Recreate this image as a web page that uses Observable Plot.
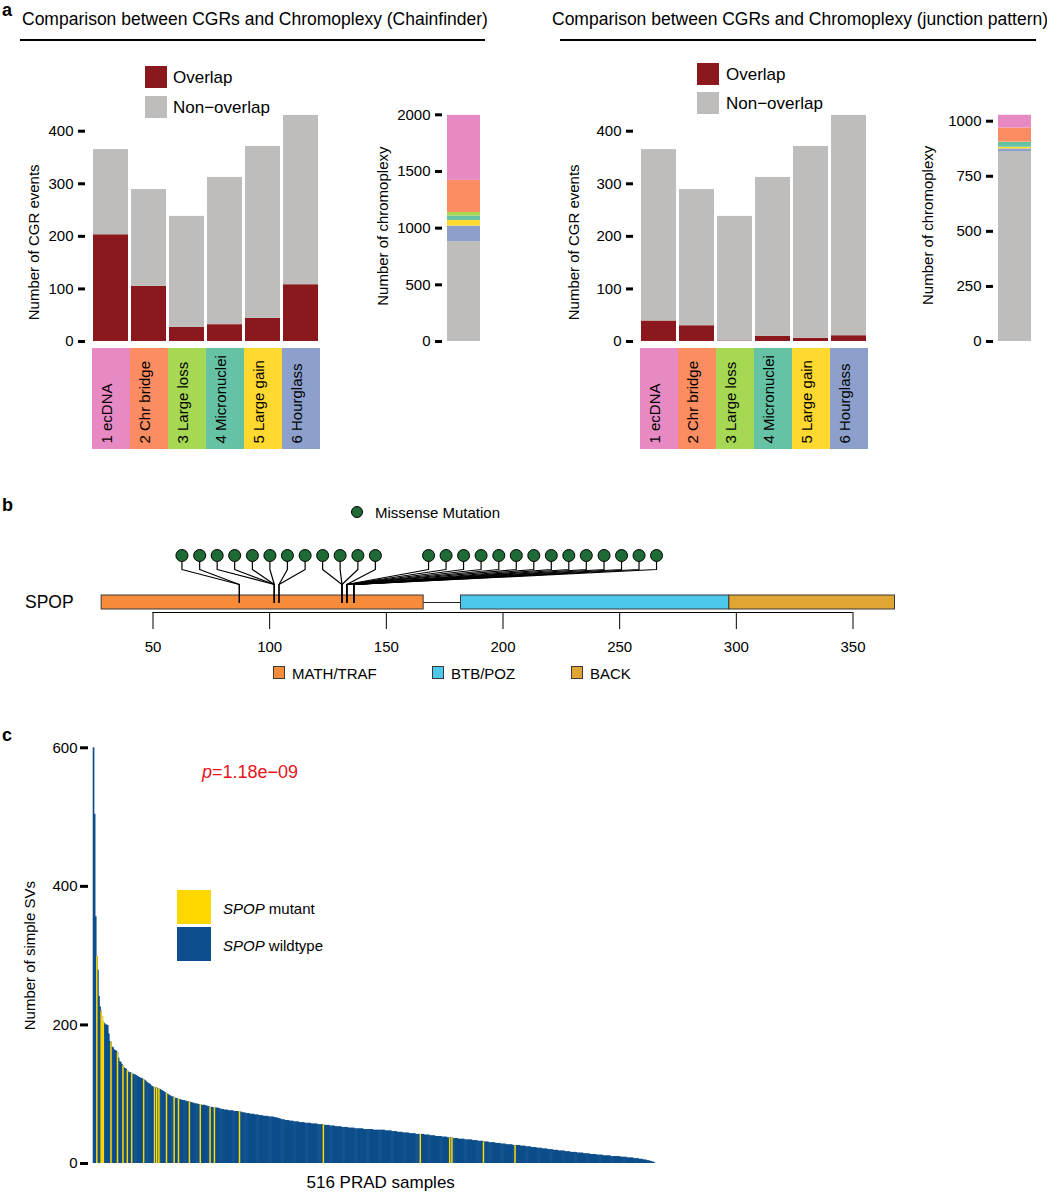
<!DOCTYPE html>
<html><head><meta charset="utf-8">
<script src="https://cdn.jsdelivr.net/npm/d3@7"></script>
<script src="https://cdn.jsdelivr.net/npm/@observablehq/plot@0.6"></script>
<style>
body{margin:0;background:#fff;font-family:"Liberation Sans",Arial,Helvetica,sans-serif;}
#page{position:relative;width:1047px;height:1200px;overflow:hidden;background:#fff;}
.abs{position:absolute;white-space:nowrap;line-height:1;color:#000;}
svg{display:block;}
</style></head><body><div id="page"></div>
<script>
// ---------------- DATA ----------------
// Panel a
const cgrCategories = ["1 ecDNA","2 Chr bridge","3 Large loss","4 Micronuclei","5 Large gain","6 Hourglass"];
const cgrColors = ["#E78AC3","#FC8D62","#A6D854","#66C2A5","#FFD92F","#8DA0CB"];
const cgrTotal = [365, 289, 238, 312, 371, 430];
const overlapChainfinder = [203, 105, 27, 32, 44, 108];
const overlapJunction = [39, 30, 1, 10, 6, 11];
const cgrTicks = [0, 100, 200, 300, 400];
// stacked chromoplexy bar, bottom to top
const chromoGroups = ["Non-overlap","6 Hourglass","5 Large gain","4 Micronuclei","3 Large loss","2 Chr bridge","1 ecDNA"];
const chromoColors = ["#BEBDBC","#8DA0CB","#FFD92F","#66C2A5","#A6D854","#FC8D62","#E78AC3"];
const chromoChainfinder = [880, 138, 50, 38, 32, 283, 574];
const chromoJunction = [862, 12, 8, 22, 1, 64, 58];
const chromoTicksChainfinder = [0, 500, 1000, 1500, 2000];
const chromoTicksJunction = [0, 250, 500, 750, 1000];

// Panel b
const spopDomains = ["MATH/TRAF","BTB/POZ","BACK"];
const domainStart = [28, 182, 297];
const domainEnd = [166, 297, 368];
const domainColors = ["#F68B3A","#4EC8EA","#E0A532"];
const missensePos = [87,87,102,102,102,102,104,104,131,131,131,133,
                     133,133,133,133,133,133,136,136,136,136,136,136,136,136];
const lollipopHead = [62.4,70.0,77.5,85.0,92.6,100.1,107.6,115.2,122.7,130.2,137.8,145.3,
                      168.1,175.6,183.1,190.6,198.2,205.7,213.2,220.7,228.2,235.7,243.3,250.8,258.3,265.8];
const proteinTicks = [50, 100, 150, 200, 250, 300, 350];

// Panel c (516 PRAD samples, sorted)
const simpleSVs = [
600,504,356,299,279,241,226,220,212,204,
202,200,200,199,187,176,175,168,167,164,
163,162,160,152,147,146,143,141,138,137,
136,134,132,131,131,130,129,128,128,127,
126,125,124,123,123,122,121,120,119,117,
116,115,114,112,111,110,110,109,109,108,
107,107,106,105,104,103,102,101,100,99,
98,97,96,96,95,94,94,93,93,92,
92,91,91,91,90,90,89,89,89,88,
88,87,87,86,86,86,85,85,85,84,
84,84,84,83,83,82,82,81,81,81,
80,80,80,80,80,79,79,78,78,78,
77,77,77,77,76,76,76,76,76,75,
75,75,75,75,75,74,74,73,73,73,
72,72,72,72,71,71,71,71,70,70,
70,70,69,69,69,69,68,68,68,68,
68,67,67,67,67,67,66,66,66,65,
65,64,64,63,63,63,62,62,62,62,
61,61,61,61,60,60,60,60,60,59,
59,59,59,59,58,58,58,58,58,58,
57,57,57,57,57,57,56,56,56,56,
56,56,55,55,55,55,55,54,54,54,
54,54,53,53,53,53,53,53,52,52,
52,52,52,52,51,51,51,51,51,51,
50,50,50,50,50,50,50,50,49,49,
49,49,49,49,49,49,49,48,48,48,
48,48,48,48,48,48,48,48,47,47,
47,47,47,47,46,46,46,46,46,45,
45,45,45,45,44,44,44,44,44,44,
43,43,43,43,43,43,42,42,42,42,
42,42,42,42,41,41,41,41,41,40,
40,40,40,40,39,39,39,39,39,39,
38,38,38,38,38,37,37,37,37,37,
36,36,36,36,36,35,35,35,35,35,
35,34,34,34,34,34,34,34,33,33,
33,33,33,32,32,32,32,32,31,31,
31,31,31,30,30,30,30,30,30,29,
29,29,29,29,28,28,28,28,28,27,
27,27,27,27,27,26,26,26,26,26,
26,26,25,25,25,25,25,24,24,24,
24,24,23,23,23,23,23,22,22,22,
22,22,21,21,21,21,21,20,20,20,
20,20,19,19,19,19,19,18,18,18,
18,18,18,17,17,17,17,17,16,16,
16,16,16,16,15,15,15,15,15,15,
14,14,14,14,14,14,13,13,13,13,
13,13,12,12,12,12,12,12,11,11,
11,11,11,11,11,10,10,10,10,10,
10,10,10,10,9,9,9,9,9,9,
8,8,8,8,8,8,7,7,7,7,
7,6,6,6,6,5,5,5,4,4,
4,3,3,2,2,1
];
const spopMutantIdx = [3,7,8,9,16,22,27,31,35,46,56,58,60,67,74,78,88,98,107,111,134,211,300,327,329,358,387];
const svTicks = [0, 200, 400, 600];

// ---------------- STYLE ----------------
const FONT = '"Liberation Sans", Arial, Helvetica, sans-serif';
const RED = "#8B181C", GRAY = "#BEBDBC";
const SPOP_BLUE = "#0C4E8B", SPOP_YELLOW = "#FFD800";
const GREEN = "#1E6B36";
const baseStyle = {fontFamily: FONT, fontSize: "15px", color: "#000", background: "transparent", overflow: "visible"};
const intFmt = d3.format("d");

const page = document.getElementById("page");
function place(node, left, top) {
  const w = document.createElement("div");
  w.style.position = "absolute"; w.style.left = left + "px"; w.style.top = top + "px";
  w.appendChild(node); page.appendChild(w);
}
function addText(html, x, cy, size, extra = {}) {
  const d = document.createElement("div");
  d.className = "abs";
  d.innerHTML = html;
  d.style.left = x + "px"; d.style.top = cy + "px";
  d.style.fontSize = size + "px";
  d.style.transform = "translateY(-50%)";
  Object.assign(d.style, extra);
  page.appendChild(d);
}
function addBox(x, y, w, h, fill, extra = {}) {
  const d = document.createElement("div");
  d.style.position = "absolute";
  d.style.left = x + "px"; d.style.top = y + "px";
  d.style.width = w + "px"; d.style.height = h + "px";
  d.style.background = fill; d.style.boxSizing = "border-box";
  Object.assign(d.style, extra);
  page.appendChild(d);
}

// ---------------- PANEL a ----------------
function cgrChart(overlap, labelDx) {
  const rows = [];
  cgrCategories.forEach((c, i) => {
    rows.push({cat: c, type: "Overlap", v: overlap[i]});
    rows.push({cat: c, type: "Non-overlap", v: cgrTotal[i] - overlap[i]});
  });
  return Plot.plot({
    width: 320, height: 250, marginLeft: 85, marginRight: 1, marginTop: 30.7, marginBottom: 9,
    style: baseStyle,
    x: {domain: cgrCategories, insetLeft: 7, paddingInner: 0.08, paddingOuter: 0, axis: null},
    y: {domain: [0, 400]},
    color: {domain: ["Overlap", "Non-overlap"], range: [RED, GRAY]},
    marks: [
      Plot.barY(rows, {x: "cat", y: "v", fill: "type"}),
      Plot.axisY({ticks: cgrTicks, tickFormat: intFmt, tickSize: 7, tickPadding: 5, strokeWidth: 3, label: null, fontSize: 15}),
      Plot.text(["Number of CGR events"], {frameAnchor: "left", textAnchor: "middle", rotate: -90, dx: labelDx, dy: 6, text: d => d, fontSize: 15})
    ]
  });
}
function categoryStrip() {
  return Plot.plot({
    width: 320, height: 101, marginLeft: 92, marginRight: 0, marginTop: 0, marginBottom: 0,
    style: baseStyle,
    x: {domain: cgrCategories, padding: 0, axis: null},
    color: {domain: cgrCategories, range: cgrColors},
    marks: [
      Plot.cell(cgrCategories, {x: d => d, fill: d => d}),
      Plot.text(cgrCategories, {x: d => d, text: d => d, rotate: -90, frameAnchor: "bottom", textAnchor: "start", dy: -6, fontSize: 15})
    ]
  });
}
function chromoChart(values, ticks, ymax, marginLeft, marginTop, labelDx, labelDy) {
  const rows = chromoGroups.map((g, i) => ({g, v: values[i]}));
  return Plot.plot({
    width: marginLeft + 5 + 33, height: 250, marginLeft, marginRight: 0, marginTop, marginBottom: 9,
    style: baseStyle,
    x: {domain: ["all"], insetLeft: 5, padding: 0, axis: null},
    y: {domain: [0, ymax]},
    color: {domain: chromoGroups, range: chromoColors},
    marks: [
      Plot.barY(rows, {x: () => "all", y: "v", fill: "g"}),
      Plot.axisY({ticks, tickFormat: intFmt, tickSize: 7, tickPadding: 5, strokeWidth: 3, label: null, fontSize: 15}),
      Plot.text(["Number of chromoplexy"], {frameAnchor: "left", textAnchor: "middle", rotate: -90, dx: labelDx, dy: labelDy, text: d => d, fontSize: 15})
    ]
  });
}

place(cgrChart(overlapChainfinder, -51), 0, 100);
place(categoryStrip(), 0, 348);
place(chromoChart(chromoChainfinder, chromoTicksChainfinder, 2000, 72, 14.3, -59, -2), 370, 100);

place(cgrChart(overlapJunction, -59), 548, 100);
place(categoryStrip(), 548, 348);
place(chromoChart(chromoJunction, chromoTicksJunction, 1000, 73, 20.7, -65, -6), 920, 100);

addText("a", 2, 10, 18, {fontWeight: "bold"});
addText("Comparison between CGRs and Chromoplexy (Chainfinder)", 22, 20, 17.5);
addBox(20, 39, 465, 2, "#000");
addText("Comparison between CGRs and Chromoplexy (junction pattern)", 552, 20, 17.5);
addBox(560, 39, 476, 2, "#000");
addBox(145, 66, 22, 22, RED);
addText("Overlap", 173, 77, 17);
addBox(145, 96, 22, 22, GRAY);
addText("Non\u2212overlap", 173, 107, 17);
addBox(697, 63, 22, 22, RED);
addText("Overlap", 726, 74, 17);
addBox(697, 92, 22, 22, GRAY);
addText("Non\u2212overlap", 726, 103, 17);

// ---------------- PANEL b ----------------
// vertical layout levels of the lollipop track (px from the top of the track)
const L = {head: 60, knee: 74, conv: 89, stemEnd: 107, barTop: 100, barBot: 114, linker: 107, axis: 117, tickEnd: 134, tickLabel: 152};
const lolliRows = missensePos.map((p, k) => ({k, p, h: lollipopHead[k]}));
const lolliPath = lolliRows.flatMap(d => [
  {k: d.k, x: d.h, y: L.head}, {k: d.k, x: d.h, y: L.knee},
  {k: d.k, x: d.p, y: L.conv}, {k: d.k, x: d.p, y: L.stemEnd}
]);
const domainRows = spopDomains.map((name, i) => ({name, start: domainStart[i], end: domainEnd[i], color: domainColors[i]}));
const protein = Plot.plot({
  width: 1047, height: 170, marginLeft: 152.5, marginRight: 194.5, marginTop: 0, marginBottom: 0,
  style: baseStyle,
  x: {domain: [50, 350], axis: null},
  y: {domain: [0, 170], range: [0, 170], axis: null},
  color: {type: "identity"},
  marks: [
    Plot.ruleY([L.linker], {x1: () => domainEnd[0], x2: () => domainStart[1], stroke: "#222", strokeWidth: 1.2}),
    Plot.rect(domainRows, {x1: "start", x2: "end", y1: () => L.barTop, y2: () => L.barBot, fill: "color", stroke: "#3a3a3a", strokeWidth: 1}),
    Plot.line(lolliPath, {x: "x", y: "y", z: "k", stroke: "#000", strokeWidth: 1.2, curve: "linear"}),
    Plot.dot(lolliRows, {x: "h", y: () => L.head, r: 6, fill: GREEN, stroke: "#000", strokeWidth: 1}),
    Plot.ruleY([L.axis], {x1: () => proteinTicks[0], x2: () => proteinTicks[proteinTicks.length - 1], stroke: "#000", strokeWidth: 1}),
    Plot.ruleX(proteinTicks, {x: d => d, y1: () => L.axis, y2: () => L.tickEnd, stroke: "#000", strokeWidth: 1}),
    Plot.text(proteinTicks, {x: d => d, y: () => L.tickLabel, text: d => String(d), fontSize: 15})
  ]
});
place(protein, 0, 495);

addText("b", 2, 505, 18, {fontWeight: "bold"});
addBox(351, 506, 12, 12, GREEN, {borderRadius: "50%", border: "1px solid #000"});
addText("Missense Mutation", 375, 512, 15);
addText("SPOP", 25, 603, 17.5);
const legX = [273, 432, 571];
spopDomains.forEach((name, i) => {
  addBox(legX[i], 666, 12, 13, domainColors[i], {border: "1px solid #3a3a3a"});
  addText(name, legX[i] + 19, 672.5, 15);
});

// ---------------- PANEL c ----------------
const mutSet = new Set(spopMutantIdx);
const svRows = simpleSVs.map((v, i) => ({i, v, mutant: mutSet.has(i)}));
const svChart = Plot.plot({
  width: 700, height: 465, marginLeft: 88, marginRight: 45, marginTop: 12.3, marginBottom: 37,
  style: baseStyle,
  x: {domain: d3.range(simpleSVs.length), padding: 0, insetLeft: 5, axis: null},
  y: {domain: [0, 600]},
  marks: [
    // every sample as a blue bar (slightly overlapping so no seams appear)
    Plot.barY(svRows, {x: "i", y: "v", fill: SPOP_BLUE, insetLeft: -0.3, insetRight: -0.3}),
    // SPOP-mutant samples in yellow on top
    Plot.barY(svRows.filter(d => d.mutant), {x: "i", y: "v", fill: SPOP_YELLOW, insetLeft: -0.2, insetRight: -0.2}),
    Plot.axisY({ticks: svTicks, tickFormat: intFmt, tickSize: 8, tickPadding: 3, strokeWidth: 3, label: null, fontSize: 15}),
    Plot.text(["Number of simple SVs"], {frameAnchor: "left", textAnchor: "middle", rotate: -90, dx: -58, text: d => d, fontSize: 15}),
    Plot.text(["516 PRAD samples"], {frameAnchor: "bottom-left", dx: 218, dy: 24, text: d => d, fontSize: 17})
  ]
});
place(svChart, 0, 735);

addText("c", 2, 735, 18, {fontWeight: "bold"});
addText('<i>p</i>=1.18e\u221209', 202, 772, 18, {color: "#E8151B"});
addBox(177, 890, 34, 34, SPOP_YELLOW);
addText('<i>SPOP</i> mutant', 223, 908, 15);
addBox(177, 927, 34, 34, SPOP_BLUE);
addText('<i>SPOP</i> wildtype', 223, 945, 15);
</script>
</body></html>
